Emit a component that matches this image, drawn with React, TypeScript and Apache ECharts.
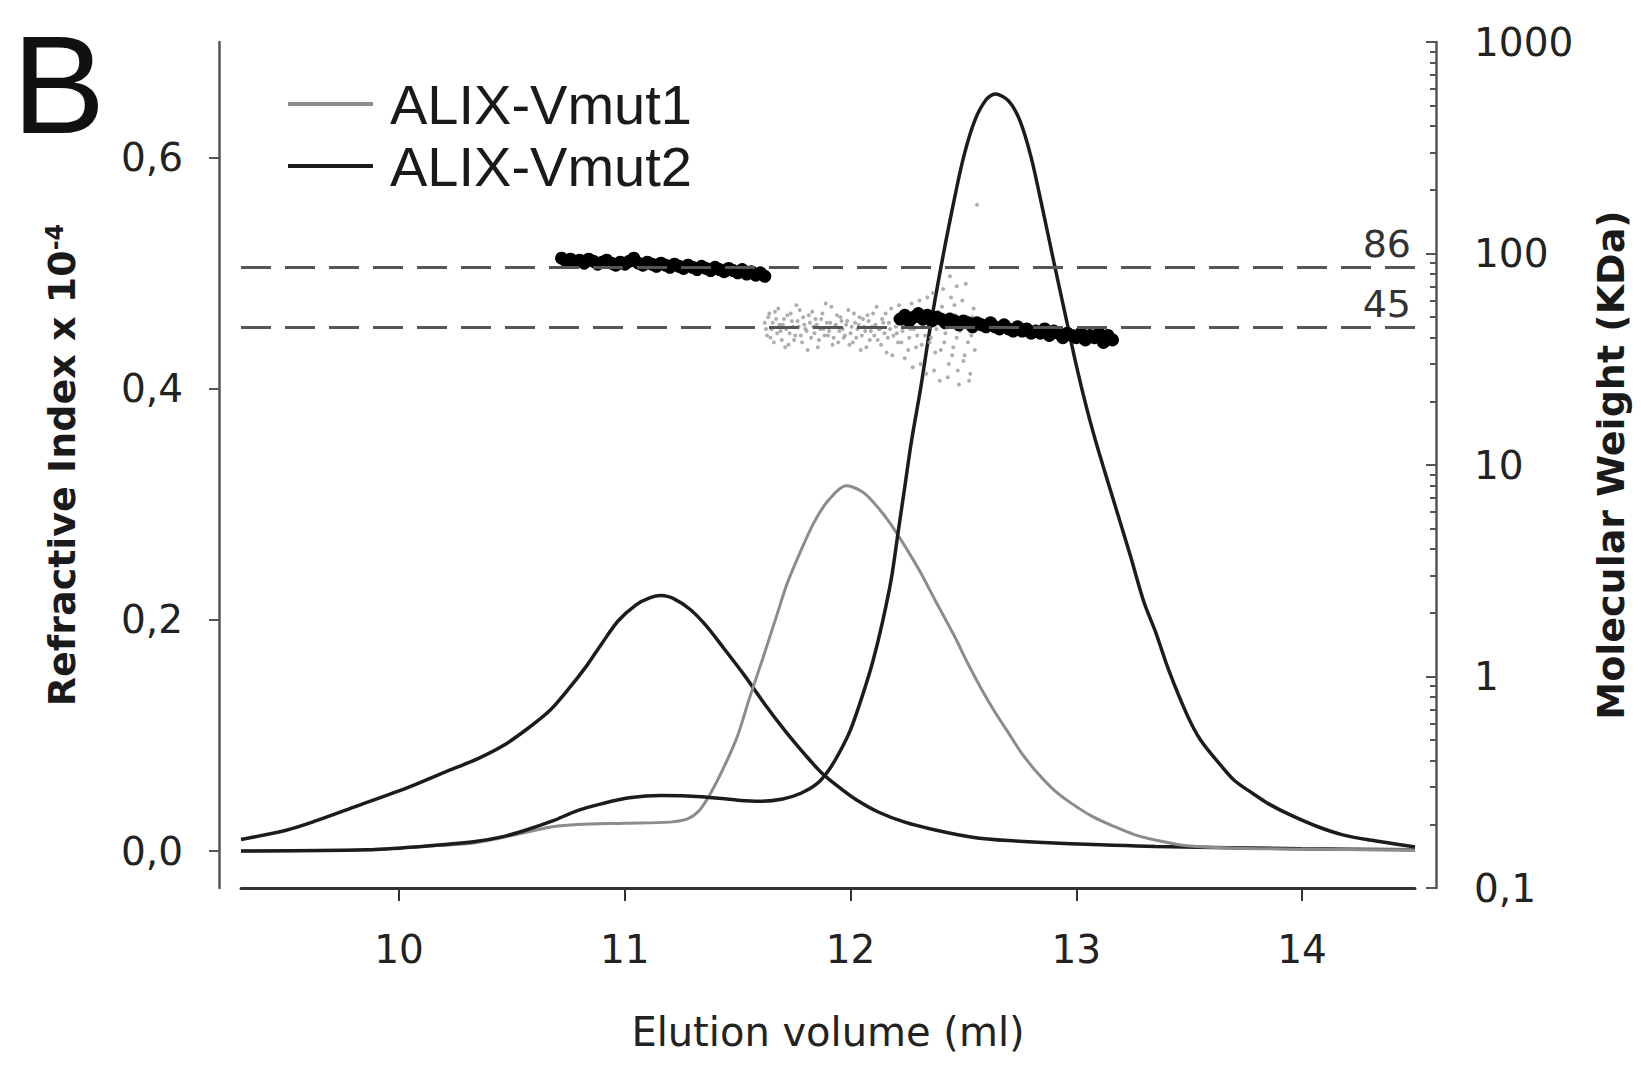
import React, { useEffect, useRef } from 'react';
import * as echarts from 'echarts';

const FONT = '"DejaVu Sans", sans-serif';
const ARIAL = '"Liberation Sans", Arial, sans-serif';

// axis ticks
const xTicks = [10, 11, 12, 13, 14];
const riTicks = [0, 0.2, 0.4, 0.6];
const mwMinorValues = [
  0.2, 0.3, 0.4, 0.5, 0.6, 0.7, 0.8, 0.9,
  2, 3, 4, 5, 6, 7, 8, 9,
  20, 30, 40, 50, 60, 70, 80, 90,
  200, 300, 400, 500, 600, 700, 800, 900,
];
const refMW = [86, 45];

// refractive index traces [elution ml, RI x 10^-4]
const alixVCurve: [number, number][] = [
  [9.3, 0.01], [9.5, 0.018], [9.63, 0.026], [9.8, 0.038], [10.0, 0.052], [10.09, 0.059],
  [10.2, 0.068], [10.35, 0.08], [10.46, 0.091], [10.57, 0.106], [10.67, 0.122], [10.75, 0.14],
  [10.83, 0.16], [10.9, 0.18], [10.97, 0.199], [11.05, 0.213], [11.11, 0.219], [11.16, 0.221],
  [11.22, 0.218], [11.29, 0.209], [11.36, 0.195], [11.44, 0.175], [11.53, 0.152], [11.62, 0.127],
  [11.71, 0.104], [11.8, 0.083], [11.87, 0.068], [11.95, 0.055], [12.02, 0.045], [12.12, 0.034],
  [12.24, 0.025], [12.38, 0.018], [12.54, 0.012], [12.7, 0.009], [12.9, 0.007], [13.35, 0.004],
  [14.0, 0.002], [14.5, 0.001],
];

const vmut1Curve: [number, number][] = [
  [9.3, 0.0], [9.86, 0.001], [10.1, 0.004], [10.33, 0.007], [10.56, 0.016], [10.68, 0.021],
  [10.79, 0.023], [11.0, 0.024], [11.2, 0.025], [11.28, 0.028], [11.33, 0.035], [11.38, 0.05],
  [11.44, 0.073], [11.5, 0.1], [11.55, 0.131], [11.61, 0.166], [11.67, 0.202], [11.72, 0.232],
  [11.78, 0.26], [11.84, 0.285], [11.9, 0.303], [11.98, 0.316], [12.05, 0.311], [12.1, 0.302],
  [12.17, 0.285], [12.24, 0.264], [12.31, 0.241], [12.38, 0.215], [12.46, 0.186], [12.52, 0.162],
  [12.58, 0.14], [12.64, 0.12], [12.7, 0.102], [12.76, 0.084], [12.83, 0.067], [12.9, 0.053],
  [12.98, 0.041], [13.07, 0.03], [13.17, 0.021], [13.26, 0.014], [13.35, 0.0095], [13.49, 0.0045],
  [13.8, 0.002], [14.5, 0.001],
];

const vmut2Curve: [number, number][] = [
  [9.3, 0.0], [9.86, 0.001], [10.1, 0.004], [10.33, 0.008], [10.45, 0.012], [10.56, 0.018],
  [10.68, 0.026], [10.79, 0.035], [10.9, 0.041], [11.02, 0.046], [11.16, 0.048], [11.34, 0.047],
  [11.5, 0.044], [11.6, 0.043], [11.7, 0.045], [11.78, 0.05], [11.85, 0.058], [11.9, 0.069],
  [11.95, 0.085], [12.0, 0.105], [12.06, 0.139], [12.1, 0.165], [12.14, 0.197], [12.18, 0.235],
  [12.21, 0.275], [12.24, 0.315], [12.27, 0.355], [12.31, 0.4], [12.35, 0.45], [12.4, 0.505],
  [12.45, 0.555], [12.5, 0.6], [12.55, 0.632], [12.6, 0.65], [12.64, 0.655], [12.7, 0.649],
  [12.75, 0.632], [12.8, 0.6], [12.85, 0.556], [12.9, 0.51], [12.95, 0.465], [13.0, 0.42],
  [13.05, 0.38], [13.1, 0.345], [13.17, 0.3], [13.24, 0.255], [13.3, 0.215], [13.35, 0.19],
  [13.41, 0.156], [13.49, 0.118], [13.55, 0.096], [13.64, 0.074], [13.7, 0.061], [13.78, 0.05],
  [13.85, 0.041], [13.95, 0.031], [14.07, 0.021], [14.18, 0.014], [14.3, 0.0095], [14.5, 0.0035],
];

// molecular weight points [elution ml, kDa]
const mwDimer: [number, number][] = [
  [10.72, 95], [10.74, 92], [10.76, 94], [10.78, 91], [10.8, 93], [10.82, 90], [10.84, 94],
  [10.86, 92], [10.88, 89], [10.9, 91], [10.92, 93], [10.94, 90], [10.96, 88], [10.98, 91],
  [11.0, 89], [11.02, 92], [11.04, 95], [11.06, 90], [11.08, 88], [11.1, 91], [11.12, 89],
  [11.14, 87], [11.16, 90], [11.18, 88], [11.2, 86], [11.22, 89], [11.24, 87], [11.26, 85],
  [11.28, 88], [11.3, 86], [11.32, 84], [11.34, 87], [11.36, 85], [11.38, 83], [11.4, 86],
  [11.42, 84], [11.44, 82], [11.46, 85], [11.48, 83], [11.5, 81], [11.52, 84], [11.54, 80],
  [11.56, 82], [11.58, 79], [11.6, 81], [11.62, 78],
];

const mwVmut1: [number, number][] = [
  [11.62, 47], [11.63, 41], [11.64, 52], [11.65, 44], [11.66, 38], [11.67, 49], [11.68, 55],
  [11.69, 43], [11.7, 46], [11.71, 36], [11.72, 51], [11.73, 42], [11.74, 48], [11.75, 39],
  [11.76, 57], [11.77, 45], [11.78, 41], [11.79, 50], [11.8, 44], [11.81, 35], [11.82, 47],
  [11.83, 53], [11.84, 42], [11.85, 46], [11.86, 39], [11.87, 49], [11.88, 44], [11.89, 58],
  [11.9, 41], [11.91, 47], [11.92, 37], [11.93, 45], [11.94, 51], [11.95, 43], [11.96, 48],
  [11.97, 40], [11.98, 46], [11.99, 54], [12.0, 42], [12.01, 38], [12.02, 47], [12.03, 44],
  [12.04, 50], [12.05, 41], [12.06, 45], [12.07, 36], [12.08, 48], [12.09, 43], [12.1, 52],
  [12.11, 46], [12.12, 39], [12.13, 44], [12.14, 49], [12.15, 42], [12.16, 34], [12.17, 47],
  [12.18, 55], [12.19, 41], [12.2, 45], [12.21, 38], [12.22, 50], [12.23, 43], [12.24, 32],
  [12.25, 47], [12.26, 40], [12.27, 58], [12.28, 44], [12.29, 36], [12.3, 49], [12.31, 30],
  [12.32, 46], [12.33, 41], [12.34, 62], [12.35, 38], [12.36, 47], [12.37, 28], [12.38, 44],
  [12.39, 53], [12.4, 35], [12.41, 68], [12.42, 42], [12.43, 26], [12.44, 48], [12.45, 33],
  [12.46, 57], [12.47, 40], [12.48, 24], [12.49, 45], [12.5, 31], [12.51, 72], [12.52, 38],
  [12.53, 27], [12.54, 50], [12.55, 35], [12.44, 78], [12.47, 70], [12.56, 170],
  [11.625, 44], [11.635, 50], [11.645, 40], [11.655, 47], [11.665, 53], [11.675, 42], [11.685, 46],
  [11.695, 39], [11.705, 49], [11.715, 44], [11.725, 37], [11.735, 52], [11.745, 45], [11.755, 41],
  [11.765, 48], [11.775, 54], [11.785, 38], [11.795, 46], [11.805, 43], [11.815, 51], [11.825, 40],
  [11.835, 45], [11.845, 49], [11.855, 36], [11.865, 44], [11.875, 52], [11.885, 41], [11.895, 47],
  [11.905, 43], [11.915, 56], [11.925, 40], [11.935, 46], [11.945, 38], [11.955, 50], [11.965, 44],
  [11.975, 41], [11.985, 48], [11.995, 37], [12.005, 45], [12.015, 52], [12.025, 40], [12.035, 46],
  [12.045, 35], [12.055, 49], [12.065, 43], [12.075, 51], [12.085, 39], [12.095, 45], [12.105, 41],
  [12.115, 56], [12.125, 44], [12.135, 37], [12.145, 47], [12.155, 52], [12.165, 40], [12.175, 44],
  [12.185, 33], [12.195, 49], [12.205, 42], [12.215, 57], [12.225, 38], [12.235, 46], [12.245, 53],
  [12.255, 35], [12.265, 44], [12.275, 29], [12.285, 50], [12.295, 41], [12.305, 60], [12.315, 37],
  [12.325, 45], [12.335, 27], [12.345, 52], [12.355, 40], [12.365, 65], [12.375, 34], [12.385, 48],
  [12.395, 25], [12.405, 56], [12.415, 38], [12.425, 46], [12.435, 30], [12.445, 62], [12.455, 36],
  [12.465, 51], [12.475, 28], [12.485, 43], [12.495, 60], [12.505, 33], [12.515, 48], [12.525, 25],
  [12.535, 41], [12.545, 55],
];

const mwVmut2: [number, number][] = [
  [12.22, 49], [12.24, 51], [12.26, 48], [12.28, 50], [12.3, 52], [12.32, 49], [12.34, 51],
  [12.36, 48], [12.38, 50], [12.4, 49], [12.42, 47], [12.44, 49], [12.46, 48], [12.48, 46],
  [12.5, 48], [12.52, 47], [12.54, 45], [12.56, 47], [12.58, 46], [12.6, 45], [12.62, 47],
  [12.64, 45], [12.66, 44], [12.68, 46], [12.7, 44], [12.72, 43], [12.74, 45], [12.76, 43],
  [12.78, 44], [12.8, 42], [12.82, 43], [12.84, 42], [12.86, 44], [12.88, 41], [12.9, 43],
  [12.92, 42], [12.94, 40], [12.96, 42], [12.98, 41], [13.0, 40], [13.02, 42], [13.04, 39],
  [13.06, 41], [13.08, 40], [13.1, 42], [13.12, 38], [13.14, 41], [13.16, 39],
];

export default function App() {
  const ref = useRef<HTMLDivElement>(null);

  useEffect(() => {
    document.body.style.margin = '0';
    if (!ref.current) return;
    const chart = echarts.init(ref.current, null, { renderer: 'svg' });

    const dark = '#1c1c1c';
    const gray = '#8c8c8c';
    const axisGray = '#555';

    chart.setOption({
      animation: false,
      backgroundColor: '#fff',
      textStyle: { fontFamily: FONT },
      graphic: [
        {
          type: 'text',
          left: 12,
          top: 14,
          style: { text: 'B', fontSize: 140, fontFamily: ARIAL, fill: '#111' },
        },
      ],
      legend: {
        orient: 'vertical',
        left: 283,
        top: 70,
        itemWidth: 85,
        itemHeight: 4,
        itemGap: 4,
        icon: 'rect',
        data: ['ALIX-Vmut1', 'ALIX-Vmut2'],
        textStyle: {
          fontFamily: ARIAL,
          fontSize: 56,
          color: '#1a1a1a',
          padding: [0, 0, 0, 12],
          lineHeight: 58,
        },
      },
      grid: { left: 241, right: 226, top: 42, bottom: 192, containLabel: false },
      xAxis: {
        type: 'value',
        min: 9.3,
        max: 14.5,
        name: 'Elution volume (ml)',
        nameLocation: 'middle',
        nameGap: 124,
        nameTextStyle: { fontFamily: FONT, fontSize: 40, color: '#222' },
        axisLine: { onZero: false, lineStyle: { color: '#333', width: 3 } },
        axisTick: { customValues: xTicks, length: 13, lineStyle: { color: '#333', width: 2 } },
        axisLabel: {
          customValues: xTicks,
          fontFamily: FONT,
          fontSize: 39,
          color: '#222',
          margin: 42,
        },
        splitLine: { show: false },
      },
      yAxis: [
        {
          type: 'value',
          min: -0.032,
          max: 0.7,
          position: 'left',
          offset: 22,
          name: '{a|Refractive Index x 10}{s|-4}',
          nameLocation: 'middle',
          nameGap: 138,
          nameTextStyle: {
            rich: {
              a: { fontFamily: FONT, fontSize: 38, fontWeight: 'bold', color: '#1a1a1a' },
              s: { fontFamily: FONT, fontSize: 24, fontWeight: 'bold', color: '#1a1a1a', verticalAlign: 'top' },
            },
          },
          axisLine: { show: true, lineStyle: { color: axisGray, width: 2.5 } },
          axisTick: { show: true, customValues: riTicks, length: 10, lineStyle: { color: axisGray, width: 2 } },
          axisLabel: {
            customValues: riTicks,
            formatter: (v: number) => v.toFixed(1).replace('.', ','),
            fontFamily: FONT,
            fontSize: 39,
            color: '#222',
            margin: 36,
          },
          splitLine: { show: false },
        },
        {
          type: 'log',
          logBase: 10,
          min: 0.1,
          max: 1000,
          position: 'right',
          offset: 21,
          name: 'Molecular Weight (KDa)',
          nameLocation: 'middle',
          nameGap: 156,
          nameRotate: 90,
          nameTextStyle: { fontFamily: FONT, fontSize: 38, fontWeight: 'bold', color: '#1a1a1a' },
          axisLine: { show: true, lineStyle: { color: axisGray, width: 2.5 } },
          axisTick: { show: true, inside: true, length: 10, lineStyle: { color: axisGray, width: 2 } },
          axisLabel: {
            formatter: (v: number) => (v < 1 ? '0,1' : String(Math.round(v))),
            fontFamily: FONT,
            fontSize: 39,
            color: '#222',
            margin: 38,
          },
          splitLine: { show: false },
        },
        {
          type: 'value',
          min: -1,
          max: 3,
          position: 'right',
          offset: 21,
          axisLine: { show: false },
          axisLabel: { show: false },
          axisTick: {
            show: true,
            inside: true,
            length: 6,
            customValues: mwMinorValues.map((v) => Math.log10(v)),
            lineStyle: { color: axisGray, width: 2 },
          },
          splitLine: { show: false },
        },
      ],
      series: [
        {
          name: 'ALIX-V',
          type: 'line',
          data: alixVCurve,
          yAxisIndex: 0,
          smooth: 0.3,
          symbol: 'none',
          color: dark,
          lineStyle: { color: dark, width: 3.5 },
          z: 2,
        },
        {
          name: 'ALIX-Vmut1',
          type: 'line',
          data: vmut1Curve,
          yAxisIndex: 0,
          smooth: 0.3,
          symbol: 'none',
          color: gray,
          lineStyle: { color: gray, width: 3 },
          z: 2,
        },
        {
          name: 'ALIX-Vmut2',
          type: 'line',
          data: vmut2Curve,
          yAxisIndex: 0,
          smooth: 0.3,
          symbol: 'none',
          color: dark,
          lineStyle: { color: dark, width: 3.5 },
          z: 2,
        },
        {
          name: 'MW Vmut1',
          type: 'scatter',
          data: mwVmut1,
          yAxisIndex: 1,
          symbolSize: 4,
          itemStyle: { color: '#a0a0a0', opacity: 0.85 },
          z: 3,
          markLine: {
            silent: true,
            symbol: ['none', 'none'],
            lineStyle: { type: [30, 14], color: '#555', width: 3 },
            label: {
              show: true,
              position: 'insideEndTop',
              formatter: '{c}',
              fontFamily: FONT,
              fontSize: 38,
              color: '#333',
              distance: 4,
            },
            data: refMW.map((v) => ({ yAxis: v })),
          },
        },
        {
          name: 'MW dimer',
          type: 'scatter',
          data: mwDimer,
          yAxisIndex: 1,
          symbolSize: 13,
          itemStyle: { color: '#000', opacity: 1 },
          z: 4,
        },
        {
          name: 'MW Vmut2',
          type: 'scatter',
          data: mwVmut2,
          yAxisIndex: 1,
          symbolSize: 13,
          itemStyle: { color: '#000', opacity: 1 },
          z: 4,
        },
      ],
    });

    return () => chart.dispose();
  }, []);

  return <div ref={ref} style={{ width: 1641, height: 1080 }} />;
}
